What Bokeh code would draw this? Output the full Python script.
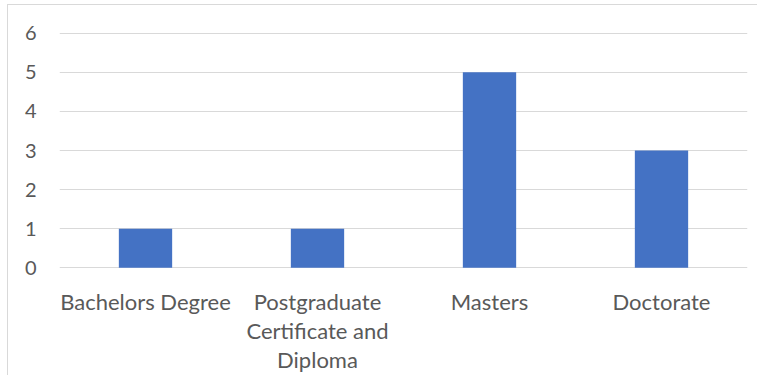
from bokeh.plotting import figure
from bokeh.models import FixedTicker, FactorRange, Range1d
from bokeh.embed import file_html
from bokeh.resources import INLINE

categories = ["Bachelors Degree", "Postgraduate Certificate and Diploma", "Masters", "Doctorate"]
category_labels = ["Bachelors Degree", "Postgraduate\nCertificate and\nDiploma", "Masters", "Doctorate"]
counts = [1, 1, 5, 3]
y_ticks = [0, 1, 2, 3, 4, 5, 6]

FONT = "Lato"
TEXT = "#595959"
GRID = "#d9d9d9"

p = figure(
    x_range=FactorRange(*category_labels, range_padding=0),
    y_range=Range1d(-0.02, 6.02),
    width=750, height=371,
    min_border_left=51, min_border_right=11,
    min_border_top=27, min_border_bottom=108,
    output_backend="svg", toolbar_location=None,
    styles={"border-left": "1px solid #d9d9d9", "border-top": "1px solid #d9d9d9",
            "margin-left": "7px", "margin-top": "4px"},
)

p.vbar(x=category_labels, top=counts, bottom=0, width=0.31, color="#4472C4", line_color=None)

p.outline_line_color = None
p.xgrid.grid_line_color = None
p.ygrid.grid_line_color = GRID
p.ygrid.grid_line_width = 1
p.yaxis.ticker = FixedTicker(ticks=y_ticks)

for ax, size in ((p.xaxis, "22px"), (p.yaxis, "20px")):
    ax.axis_line_color = None
    ax.major_tick_line_color = None
    ax.minor_tick_line_color = None
    ax.major_tick_in = 0
    ax.major_tick_out = 0
    ax.major_label_text_font = FONT
    ax.major_label_text_font_size = size
    ax.major_label_text_color = TEXT

p.yaxis.major_label_standoff = 23
p.xaxis.major_label_standoff = 19
p.xaxis.major_label_text_line_height = 1.08

open("out.html", "w").write(file_html(p, INLINE))
